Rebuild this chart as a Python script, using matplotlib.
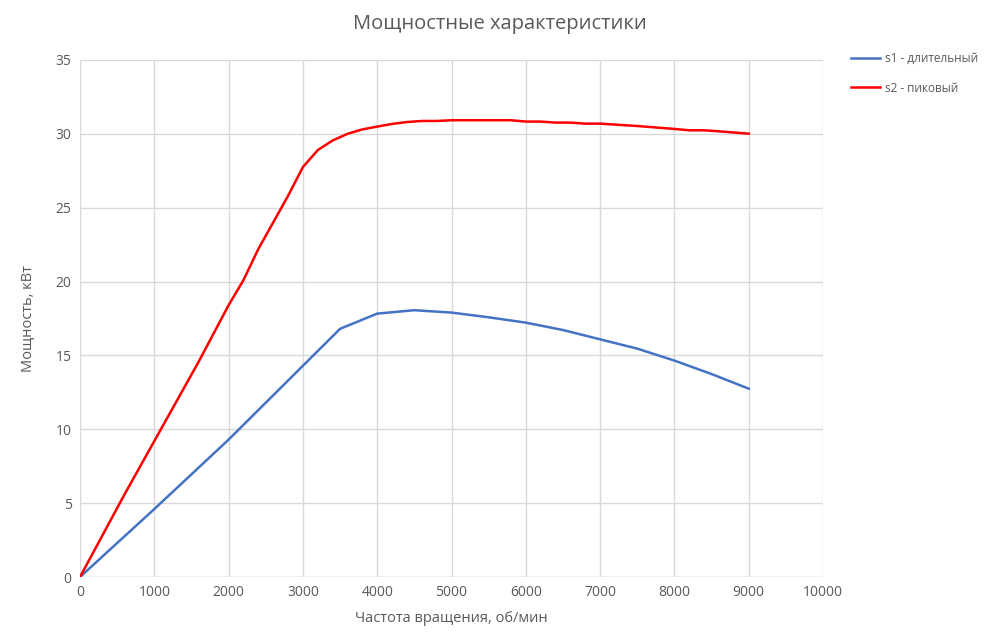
import numpy as np
import matplotlib
matplotlib.use('Agg')
import matplotlib.pyplot as plt

plt.rcParams['font.family'] = ['Open Sans', 'DejaVu Sans']

# s1 - длительный
rpm_s1 = [0, 1000, 2000, 3000, 3500, 4000, 4500, 5000, 5500, 6000, 6500, 7000, 7500, 8000, 8500, 9000]
kw_s1 = [0, 4.6, 9.3, 14.3, 16.8, 17.83, 18.06, 17.9, 17.58, 17.22, 16.72, 16.09, 15.46, 14.65, 13.74, 12.75]

# s2 - пиковый
rpm_s2 = [0, 300, 600, 1000, 1600, 2000, 2200, 2400, 2800, 3000, 3200, 3400, 3600, 3800, 4000,
          4200, 4400, 4600, 4800, 5000, 5500, 5800, 6000, 6200, 6400, 6600, 6800, 7000,
          7500, 8000, 8200, 8400, 8600, 9000]
kw_s2 = [0, 2.8, 5.6, 9.2, 14.6, 18.4, 20.1, 22.2, 25.8, 27.75, 28.9, 29.55, 30.0, 30.3, 30.49,
         30.67, 30.8, 30.87, 30.87, 30.92, 30.92, 30.92, 30.83, 30.83, 30.76, 30.76, 30.69, 30.69,
         30.53, 30.33, 30.24, 30.24, 30.17, 30.01]

grey = '#595959'

fig = plt.figure(figsize=(10, 6.38), dpi=100)
ax = fig.add_axes([0.08, 0.0956, 0.743, 0.8104])

ax.plot(rpm_s1, kw_s1, color='#4472C4', lw=1.8, label='s1 - длительный')
ax.plot(rpm_s2, kw_s2, color='#FF0000', lw=1.8, label='s2 - пиковый')

ax.set_xlim(0, 10000)
ax.set_ylim(0, 35)
ax.set_xticks(np.arange(0, 10001, 1000))
ax.set_yticks(np.arange(0, 36, 5))
ax.grid(True, color='#d9d9d9', lw=1)
ax.set_axisbelow(True)
for s in ax.spines.values():
    s.set_visible(False)
ax.axhline(0, color='#d9d9d9', lw=1, zorder=0)
ax.tick_params(length=0, labelsize=10, labelcolor=grey, pad=6)

ax.set_xlabel('Частота вращения, об/мин', fontsize=10.5, color=grey, labelpad=8)
ax.set_ylabel('Мощность, кВт', fontsize=10.5, color=grey, labelpad=14)
fig.suptitle('Мощностные характеристики', fontsize=14.5, color=grey, y=0.978)

leg = fig.legend(loc='upper left', bbox_to_anchor=(0.84, 0.935), frameon=False,
                 fontsize=8.5, handlelength=2.5, handletextpad=0.4, labelspacing=1.4)
for t in leg.get_texts():
    t.set_color(grey)

fig.savefig('out.png', dpi=100)
